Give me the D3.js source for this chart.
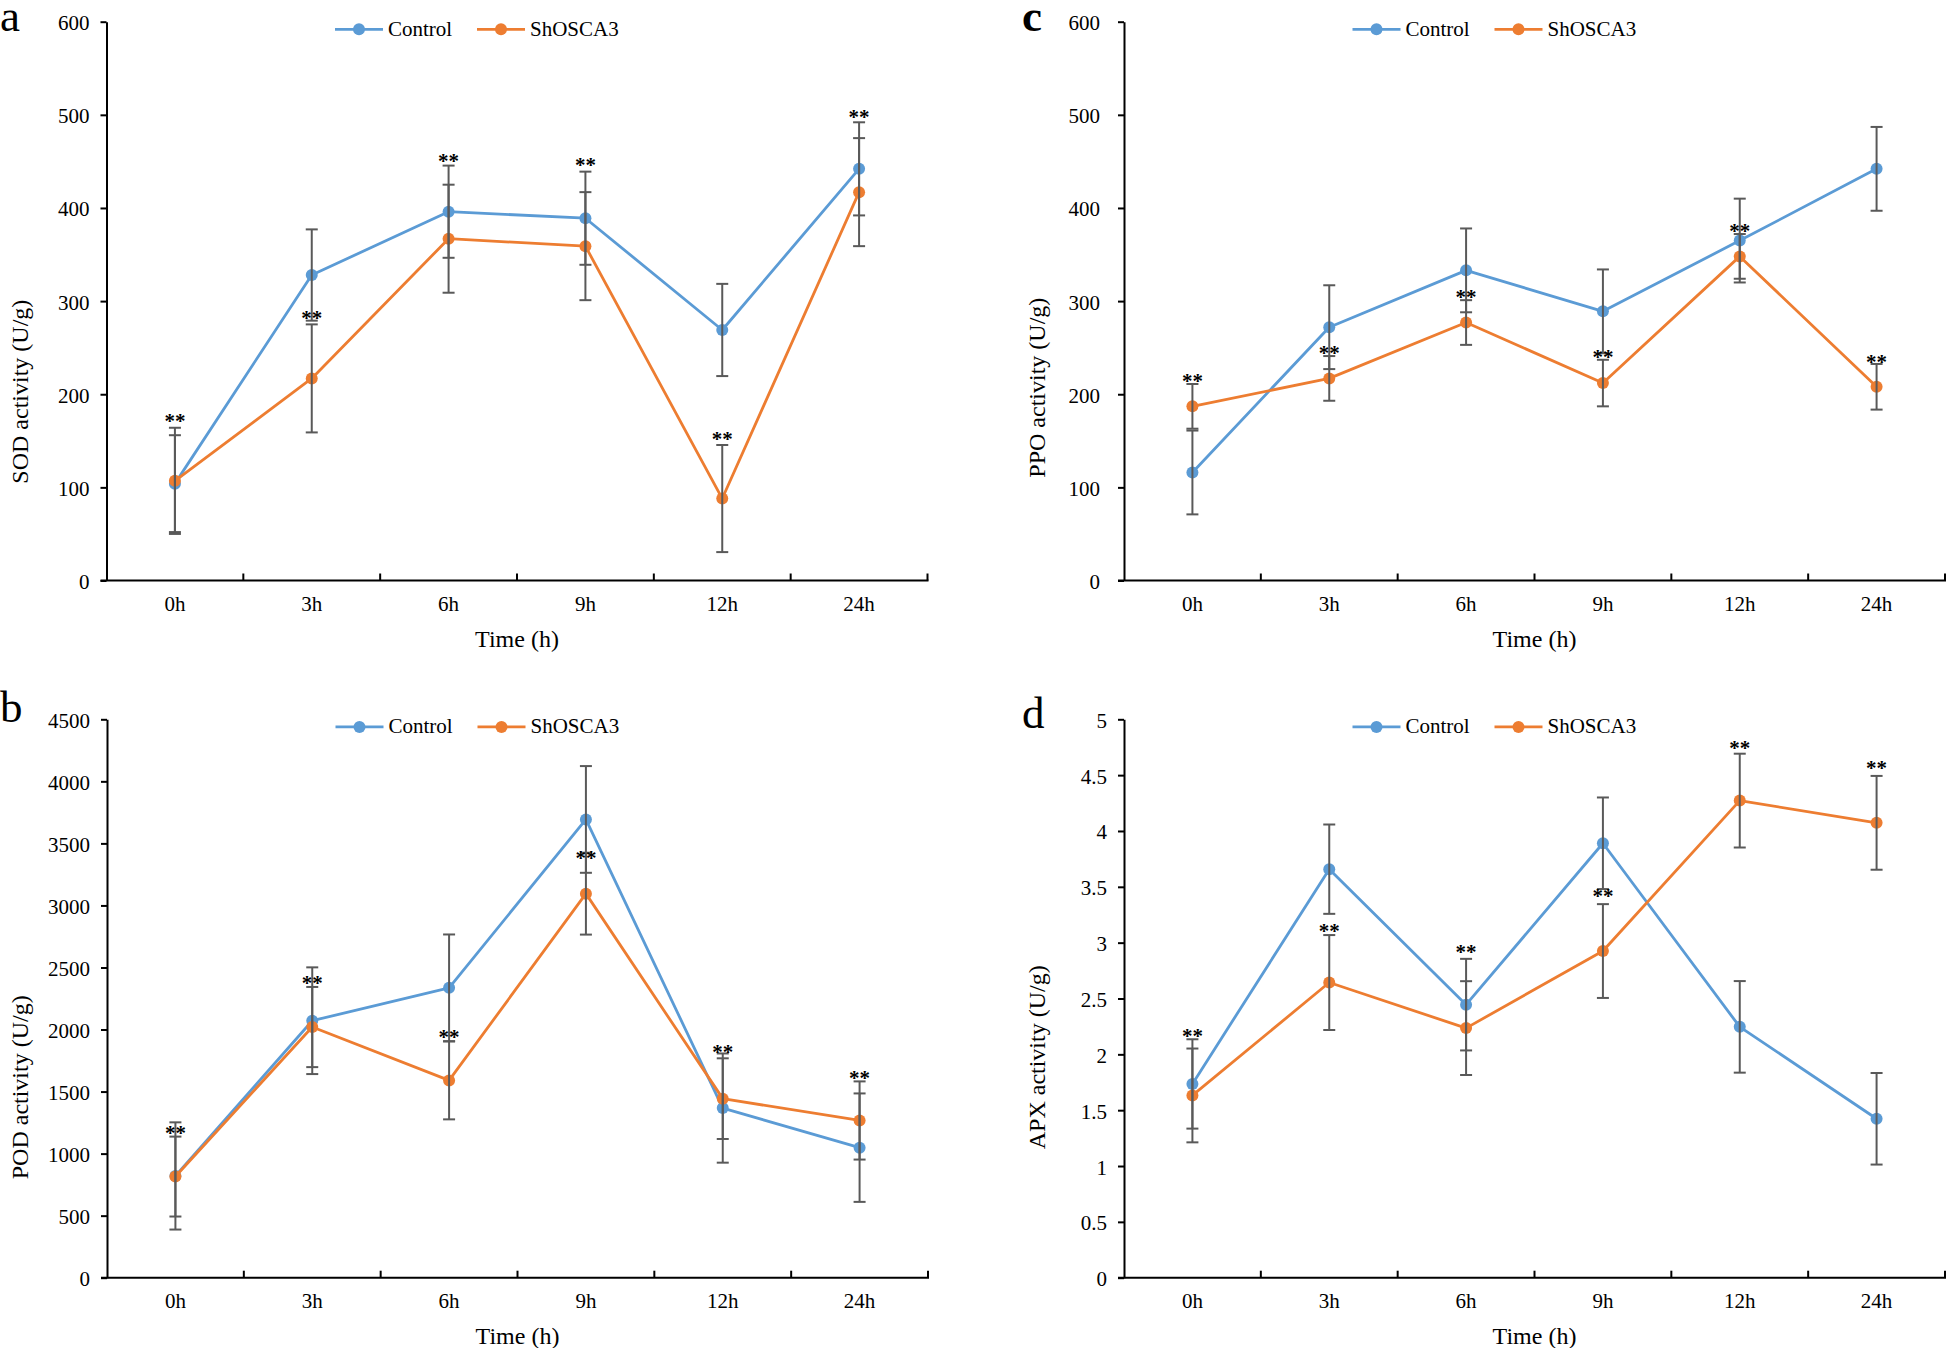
<!DOCTYPE html>
<html>
<head>
<meta charset="utf-8">
<script src="https://cdn.jsdelivr.net/npm/d3@7"></script>
<style>
  html, body { margin: 0; padding: 0; background: #fff; }
  svg { display: block; }
  text { font-family: "Liberation Serif", "Times New Roman", serif; fill: #000; }
</style>
</head>
<body>
<svg id="chart" width="1952" height="1348"></svg>
<script>
// ---------- DATA ----------
const times = ["0h", "3h", "6h", "9h", "12h", "24h"];
const seriesNames = ["Control", "ShOSCA3"];

// a: SOD
const sodControl = [104, 328, 396, 389, 269, 442];
const sodControlErr = [52, 49, 49.5, 50, 49.5, 50];
const sodShOSCA3 = [107, 217, 367, 359, 88, 417];
const sodShOSCA3Err = [57, 58, 58, 58, 57.5, 58];
const sodStars = [176, 286, 455, 450, 156, 502];
const sodTicks = [0, 100, 200, 300, 400, 500, 600];

// b: POD
const podControl = [820, 2071, 2336, 3693, 1367, 1048];
const podControlErr = [432, 430, 430, 430, 440, 437];
const podShOSCA3 = [815, 2020, 1590, 3095, 1443, 1267];
const podShOSCA3Err = [322, 323, 314, 330, 325, 315];
const podStars = [1195, 2405, 1969, 3418, 1848, 1639];
const podTicks = [0, 500, 1000, 1500, 2000, 2500, 3000, 3500, 4000, 4500];

// c: PPO
const ppoControl = [116, 272, 333, 289, 365, 442];
const ppoControlErr = [45, 45, 45, 45, 45, 45];
const ppoShOSCA3 = [187, 217, 277, 212, 348, 208];
const ppoShOSCA3Err = [24, 24, 24, 25, 24, 24.5];
const ppoStars = [218, 249, 309, 244, 380, 239];
const ppoTicks = [0, 100, 200, 300, 400, 500, 600];

// d: APX
const apxControl = [1.735, 3.658, 2.445, 3.89, 2.246, 1.423];
const apxControlErr = [0.40, 0.40, 0.41, 0.41, 0.41, 0.41];
const apxShOSCA3 = [1.632, 2.643, 2.235, 2.925, 4.272, 4.073];
const apxShOSCA3Err = [0.42, 0.425, 0.42, 0.42, 0.42, 0.42];
const apxStars = [2.2, 3.14, 2.95, 3.455, 4.78, 4.6];
const apxTicks = [0, 0.5, 1, 1.5, 2, 2.5, 3, 3.5, 4, 4.5, 5];
const apxTickLabels = ["0", "0.5", "1", "1.5", "2", "2.5", "3", "3.5", "4", "4.5", "5"];

const yTitles = ["SOD activity (U/g)", "POD activity (U/g)", "PPO activity (U/g)", "APX activity (U/g)"];
const panelLetters = ["a", "b", "c", "d"];
const xTitle = "Time (h)";

// ---------- STYLE / LAYOUT ----------
const colors = ["#5B9BD5", "#ED7D31"];
const errColor = "#595959";

const panels = [
  { letter: panelLetters[0], bold: false, lx: 0, ly: 31, left: 106.5, right: 927.5, top: 21.7, bottom: 580.5,
    ticks: sodTicks, labels: sodTicks.map(String), title: yTitles[0], titleOff: 370, labelGap: 17,
    vals: [sodControl, sodShOSCA3], errs: [sodControlErr, sodShOSCA3Err], stars: sodStars },
  { letter: panelLetters[1], bold: false, lx: 0, ly: 722, left: 107, right: 928, top: 719.3, bottom: 1277.7,
    ticks: podTicks, labels: podTicks.map(String), title: yTitles[1], titleOff: 368, labelGap: 17,
    vals: [podControl, podShOSCA3], errs: [podControlErr, podShOSCA3Err], stars: podStars },
  { letter: panelLetters[2], bold: true, lx: 1022, ly: 31, left: 1124, right: 1945, top: 21.7, bottom: 580.5,
    ticks: ppoTicks, labels: ppoTicks.map(String), title: yTitles[2], titleOff: 366, labelGap: 24,
    vals: [ppoControl, ppoShOSCA3], errs: [ppoControlErr, ppoShOSCA3Err], stars: ppoStars },
  { letter: panelLetters[3], bold: false, lx: 1022, ly: 728, left: 1124, right: 1945, top: 719.3, bottom: 1277.7,
    ticks: apxTicks, labels: apxTickLabels, title: yTitles[3], titleOff: 338, labelGap: 17,
    vals: [apxControl, apxShOSCA3], errs: [apxControlErr, apxShOSCA3Err], stars: apxStars }
];

const svg = d3.select("#chart");

panels.forEach(p => {
  const g = svg.append("g");
  const x = d3.scaleBand().domain(times).range([p.left, p.right]).paddingInner(0).paddingOuter(0);
  const y = d3.scaleLinear().domain([p.ticks[0], p.ticks[p.ticks.length - 1]]).range([p.bottom, p.top]);
  const cx = d => x(d) + x.bandwidth() / 2;

  // panel letter
  g.append("text").attr("x", p.lx).attr("y", p.ly)
    .attr("font-size", 45).attr("font-weight", p.bold ? "bold" : "normal").text(p.letter);

  // y axis
  const yAxis = d3.axisLeft(y).tickValues(p.ticks).tickSize(6).tickSizeOuter(0)
    .tickFormat((d, i) => p.labels[i]);
  const ya = g.append("g").attr("transform", `translate(${p.left},0)`).call(yAxis);
  ya.select(".domain").attr("stroke", "#000").attr("stroke-width", 2);
  ya.selectAll(".tick line").attr("stroke", "#000").attr("stroke-width", 2);
  ya.selectAll(".tick text").attr("x", -p.labelGap).attr("dy", "0.38em")
    .attr("font-size", 21).attr("font-family", "Liberation Serif").attr("fill", "#000");

  // x axis line and boundary ticks (Excel style: ticks between categories)
  g.append("line").attr("x1", p.left - 6).attr("x2", p.right + 1)
    .attr("y1", y(0)).attr("y2", y(0)).attr("stroke", "#000").attr("stroke-width", 2);
  const bounds = times.slice(1).map(t => x(t)).concat([p.right]);
  g.selectAll(".xb").data(bounds).enter().append("line")
    .attr("x1", d => d).attr("x2", d => d)
    .attr("y1", y(0)).attr("y2", y(0) - 7).attr("stroke", "#000").attr("stroke-width", 2);
  g.selectAll(".xl").data(times).enter().append("text")
    .attr("x", d => cx(d)).attr("y", y(0) + 30).attr("text-anchor", "middle")
    .attr("font-size", 21).text(d => d);

  // axis titles
  g.append("text").attr("x", (p.left + p.right) / 2).attr("y", p.bottom + 66)
    .attr("text-anchor", "middle").attr("font-size", 24).text(xTitle);
  g.append("text")
    .attr("transform", `translate(${p.left - 79},${p.top + p.titleOff}) rotate(-90)`)
    .attr("text-anchor", "middle").attr("font-size", 24).text(p.title);

  // lines + markers
  const line = d3.line().x((d, i) => cx(times[i])).y(d => y(d));
  p.vals.forEach((vals, s) => {
    g.append("path").datum(vals).attr("d", line).attr("fill", "none")
      .attr("stroke", colors[s]).attr("stroke-width", 2.8).attr("stroke-linejoin", "round");
    g.selectAll(".m" + s).data(vals).enter().append("circle")
      .attr("cx", (d, i) => cx(times[i])).attr("cy", d => y(d)).attr("r", 6)
      .attr("fill", colors[s]);
  });

  // error bars
  p.vals.forEach((vals, s) => {
    const eb = g.append("g").attr("stroke", errColor).attr("stroke-width", 2);
    vals.forEach((v, i) => {
      const e = p.errs[s][i];
      const xx = cx(times[i]);
      eb.append("line").attr("x1", xx).attr("x2", xx).attr("y1", y(v - e)).attr("y2", y(v + e));
      eb.append("line").attr("x1", xx - 6).attr("x2", xx + 6).attr("y1", y(v - e)).attr("y2", y(v - e));
      eb.append("line").attr("x1", xx - 6).attr("x2", xx + 6).attr("y1", y(v + e)).attr("y2", y(v + e));
    });
  });

  // significance stars
  g.selectAll(".st").data(p.stars).enter().append("text")
    .attr("x", (d, i) => cx(times[i])).attr("y", d => y(d) + 11)
    .attr("text-anchor", "middle").attr("font-size", 21).attr("font-weight", "bold").text("**");

  // legend
  const legY = p.top + 7.6;
  const legStarts = [p.left + 228.5, p.left + 370.5];
  seriesNames.forEach((name, s) => {
    const lx0 = legStarts[s];
    g.append("line").attr("x1", lx0).attr("x2", lx0 + 48).attr("y1", legY).attr("y2", legY)
      .attr("stroke", colors[s]).attr("stroke-width", 2.8);
    g.append("circle").attr("cx", lx0 + 24).attr("cy", legY).attr("r", 6).attr("fill", colors[s]);
    g.append("text").attr("x", lx0 + 53).attr("y", p.top + 14).attr("font-size", 21).text(name);
  });
});
</script>
</body>
</html>
